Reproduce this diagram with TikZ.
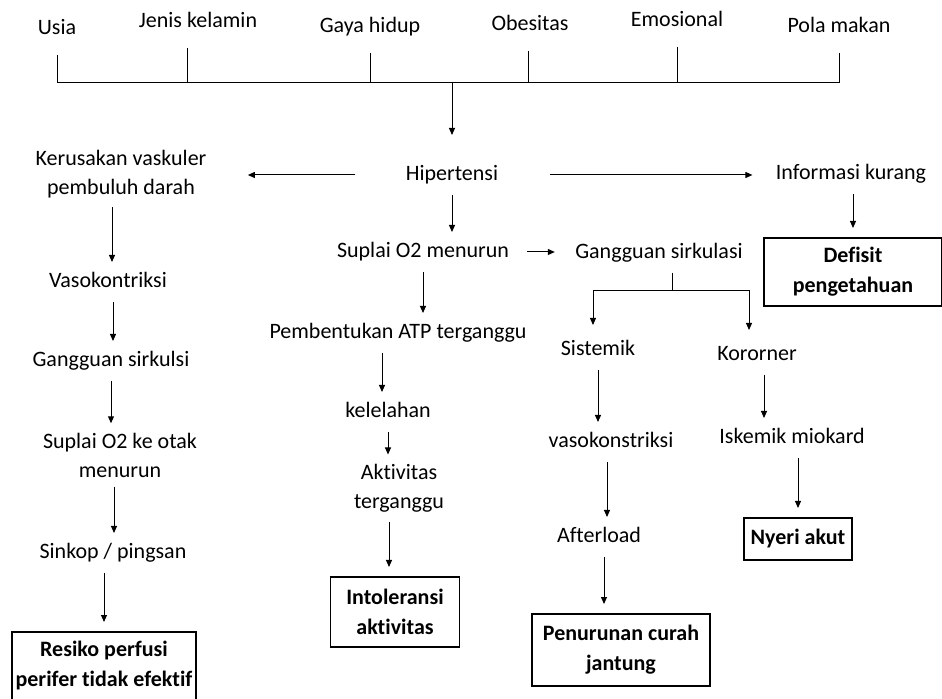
\documentclass[tikz,border=0pt]{standalone}
\usepackage{fontspec}
\setmainfont{Carlito}[Ligatures=NoCommon]
\usetikzlibrary{arrows.meta}
\tikzset{
        every node/.style={font=\fontsize{11}{14.5}\selectfont},
        txt/.style={inner sep=4.5pt, text height=8pt, text depth=2.5pt},
        txtt/.style={inner sep=4.5pt, align=center},
        box/.style={draw, line width=0.6pt, align=center, inner xsep=1.5pt, inner ysep=3pt, outer sep=5pt, font=\fontsize{11}{15}\selectfont\bfseries},
        arr/.style={-{Triangle[length=3.5pt,width=3pt]}},
        tick/.style={shorten <=3pt}
          }
\begin{document}
\begin{tikzpicture}[x=0.5pt, y=-0.5pt, line width=0.5pt]
        \useasboundingbox (0,0) rectangle (942,699);
        % faktor risiko
        \node[txt] (usia) at (57,29) {Usia};
        \node[txt] (jenis) at (198,22) {Jenis kelamin};
        \node[txt] (gaya) at (370,27) {Gaya hidup};
        \node[txt] (obes) at (530,25) {Obesitas};
        \node[txt] (emo) at (677,21) {Emosional};
        \node[txt] (pola) at (839,27) {Pola makan};
        \coordinate (barL) at (58,83);
        \coordinate (barR) at (839,83);
        % kolom tengah
        \node[txt] (hip) at (452,175) {Hipertensi};
        \node[txt] (sup) at (423,252) {Suplai O2 menurun};
        \node[txt] (pem) at (398,333) {Pembentukan ATP terganggu};
        \node[txt] (kel) at (388,412) {kelelahan};
        \node[txtt] (akt) at (399,488) {Aktivitas\\terganggu};
        \node[box, minimum width=64.5pt, minimum height=35pt] (intol) at (395,612) {Intoleransi\\aktivitas};
        % kolom kiri
        \node[txtt] (ker) at (121,174) {Kerusakan vaskuler\\pembuluh darah};
        \node[txt] (vaso) at (108,282) {Vasokontriksi};
        \node[txt] (gs) at (111,361) {Gangguan sirkulsi};
        \node[txtt] (otak) at (120,455) {Suplai O2 ke otak\\menurun};
        \node[txt] (sink) at (113,553) {Sinkop / pingsan};
        \node[box, minimum width=92pt, minimum height=34pt] (res) at (104,666) {Resiko perfusi\\perifer tidak efektif};
        % kolom kanan
        \node[txt] (inf) at (851,174) {Informasi kurang};
        \node[box, minimum width=89pt, minimum height=34pt] (def) at (853,272) {Defisit\\pengetahuan};
        \node[txt] (gang) at (659,253) {Gangguan sirkulasi};
        \coordinate (fork) at (672,291);
        \node[txt] (sis) at (598,350) {Sistemik};
        \node[txt] (kor) at (757,355) {Kororner};
        \node[txt] (vk) at (611,442) {vasokonstriksi};
        \node[txt] (aft) at (599,537) {Afterload};
        \node[box, minimum width=89pt, minimum height=36pt] (pen) at (621,650) {Penurunan curah\\jantung};
        \node[txt] (isk) at (792,438) {Iskemik miokard};
        \node[box, minimum width=54pt, minimum height=21pt] (nyeri) at (798,539) {Nyeri akut};

        % garis faktor
        \draw[tick] (usia.south) -- (usia.south |- barL);
        \draw[tick] ([xshift=-5.5pt]jenis.south) -- ([xshift=-5.5pt]jenis.south |- barL);
        \draw[tick] (gaya.south) -- (gaya.south |- barL);
        \draw[tick] ([xshift=-1pt]obes.south) -- ([xshift=-1pt]obes.south |- barL);
        \draw[tick] (emo.south) -- (emo.south |- barL);
        \draw[tick] (pola.south) -- (pola.south |- barL);
        \draw (barL) -- (barR);
        \draw[arr, shorten >=10pt] (hip.north |- barL) -- (hip.north);

        % panah
        \draw[arr, shorten <=20.5pt, shorten >=16pt] (hip.west) -- (hip.west -| ker.east);
        \draw[arr, shorten <=21pt, shorten >=7pt] (hip.east) -- (hip.east -| inf.west);
        \draw[arr] (hip.south) -- (hip.south |- sup.north);
        \draw[arr, shorten <=4.5pt, shorten >=5.5pt] (sup.east) -- (sup.east -| gang.west);
        \draw[arr] (sup.south) -- (sup.south |- pem.north);
        \draw[arr] ([xshift=-8pt]pem.south) -- ([xshift=-8pt]pem.south |- kel.north);
        \draw[arr] (kel.south) -- (kel.south |- akt.north);
        \draw[arr] ([xshift=-5pt]akt.south) -- ([xshift=-5pt]akt.south |- intol.north);

        \draw[arr] ([xshift=-4.5pt]ker.south) -- ([xshift=-4.5pt]ker.south |- vaso.north);
        \draw[arr] ([xshift=2.5pt]vaso.south) -- ([xshift=2.5pt]vaso.south |- gs.north);
        \draw[arr] (gs.south) -- (gs.south |- otak.north);
        \draw[arr] ([xshift=-3pt]otak.south) -- ([xshift=-3pt]otak.south |- sink.north);
        \draw[arr] (sink.south -| res.north) -- (res.north);

        \draw[arr] (inf.south -| def.north) -- (def.north);
        \draw (gang.south -| fork) -- (fork);
        \draw[arr, shorten >=2.5pt] (fork) -| ([xshift=-2.5pt]sis.north);
        \draw[arr, shorten >=2.5pt] (fork) -| ([xshift=-4pt]kor.north);
        \draw[arr] (sis.south) -- (sis.south |- vk.north);
        \draw[arr] ([xshift=-2pt]vk.south) -- ([xshift=-2pt]vk.south |- aft.north);
        \draw[arr] ([xshift=2.5pt]aft.south) -- ([xshift=2.5pt]aft.south |- pen.north);
        \draw[arr] ([xshift=3.5pt]kor.south) -- ([xshift=3.5pt]kor.south |- isk.north);
        \draw[arr] (isk.south -| nyeri.north) -- (nyeri.north);
\end{tikzpicture}
\end{document}
